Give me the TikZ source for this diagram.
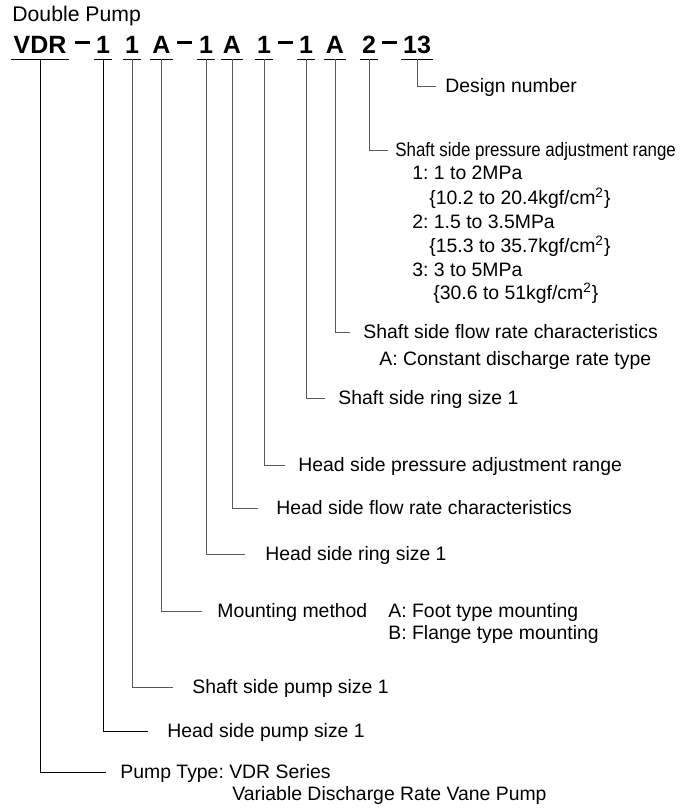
\documentclass[tikz,border=0pt]{standalone}
\usepackage{fontspec}
\setmainfont{Liberation Sans}
\usepackage{graphicx}
\usepackage{tikz}
\usetikzlibrary{positioning}
\frenchspacing

\tikzset{
  code/.style={font=\fontsize{12.5}{15}\selectfont\bfseries, inner xsep=1pt, inner ysep=3pt, text depth=0pt, anchor=base},
  dsh/.style={fill=black, inner sep=0pt, minimum width=7.5pt, minimum height=1.5pt},
  lbl/.style={font=\fontsize{9.7}{12}\selectfont, inner sep=0pt, anchor=west, text height=6.95pt, text depth=0pt},
  uline/.style={draw=black, line width=0.5pt},
  conn/.style={draw=black!65, line width=0.5pt},
  connk/.style={draw=black, line width=0.5pt}
}

\begin{document}
\begin{tikzpicture}[x=0.5pt, y=-0.5pt]
\useasboundingbox (0,0) rectangle (685,809);
\node[anchor=base west, inner sep=0pt, font=\fontsize{10.6}{12}\selectfont] (title) at (12,21) {Double Pump};
% model code
\node[code] (vdr) at (40,53) {VDR};
\node[dsh] (d1) at (82.5,42.5) {};
\node[code] (hsz) at (103,53) {1};
\node[code] (ssz) at (132,53) {1};
\node[code] (mtg) at (161.5,53) {A};
\node[dsh] (d2) at (184,42.5) {};
\node[code] (hrg) at (206,53) {1};
\node[code] (hfl) at (232,53) {A};
\node[code] (hpa) at (264,53) {1};
\node[dsh] (d3) at (285,42.5) {};
\node[code] (srg) at (306,53) {1};
\node[code] (sfl) at (335,53) {A};
\node[code] (spa) at (369,53) {2};
\node[dsh] (d4) at (389,42.5) {};
\node[code] (dno) at (417,53) {13};
\foreach \n in {vdr,hsz,ssz,mtg,hrg,hfl,hpa,srg,sfl,spa,dno}
  \draw[uline] (\n.south west) -- (\n.south east);
% line ends
\coordinate (edno) at (436,86);
\coordinate (espa) at (388,150);
\coordinate (esfl) at (350,332);
\coordinate (esrg) at (325,398);
\coordinate (ehpa) at (285,465);
\coordinate (ehfl) at (258,508);
\coordinate (ehrg) at (245,554);
\coordinate (emtg) at (202,611);
\coordinate (essz) at (173,687);
\coordinate (ehsz) at (148,731);
\coordinate (evdr) at (106,772);
% labels
\node[lbl] (ldno) at (445,86) {Design number};
\node[lbl] (lspa) at (395,150) {\scalebox{0.87}[1]{Shaft side pressure adjustment range}};
\node[lbl] (lspa1) at (412,173) {1: 1 to 2MPa};
\node[lbl] (lspa2) at (429,198) {\{10.2 to 20.4kgf/cm\textsuperscript{2}\}};
\node[lbl] (lspa3) at (412,222) {2: 1.5 to 3.5MPa};
\node[lbl] (lspa4) at (429,246) {\{15.3 to 35.7kgf/cm\textsuperscript{2}\}};
\node[lbl] (lspa5) at (412,270) {3: 3 to 5MPa};
\node[lbl] (lspa6) at (433,293) {\{30.6 to 51kgf/cm\textsuperscript{2}\}};
\node[lbl] (lsfl) at (363,332) {Shaft side flow rate characteristics};
\node[lbl] (lsfl1) at (379,359) {A: Constant discharge rate type};
\node[lbl] (lsrg) at (338,398) {Shaft side ring size 1};
\node[lbl] (lhpa) at (298,465) {Head side pressure adjustment range};
\node[lbl] (lhfl) at (276,508) {Head side flow rate characteristics};
\node[lbl] (lhrg) at (265,554) {Head side ring size 1};
\node[lbl] (lmtg) at (217,611) {Mounting method};
\node[lbl] (lmtga) at (388,611) {A: Foot type mounting};
\node[lbl] (lmtgb) at (388,633) {B: Flange type mounting};
\node[lbl] (lssz) at (192,687) {Shaft side pump size 1};
\node[lbl] (lhsz) at (167,731) {Head side pump size 1};
\node[lbl] (lvdr) at (120,772) {Pump Type: VDR Series};
\node[lbl] (lvdr1) at (232,794) {Variable Discharge Rate Vane Pump};
% leaders
\draw[conn] (dno.south) |- (edno);
\draw[conn] (spa.south) |- (espa);
\draw[conn] (sfl.south) |- (esfl);
\draw[conn] (srg.south) |- (esrg);
\draw[conn] (hpa.south) |- (ehpa);
\draw[conn] (hfl.south) |- (ehfl);
\draw[conn] (hrg.south) |- (ehrg);
\draw[conn] (mtg.south) |- (emtg);
\draw[conn] (ssz.south) |- (essz);
\draw[connk] (hsz.south) |- (ehsz);
\draw[connk] (vdr.south) |- (evdr);
\end{tikzpicture}
\end{document}
